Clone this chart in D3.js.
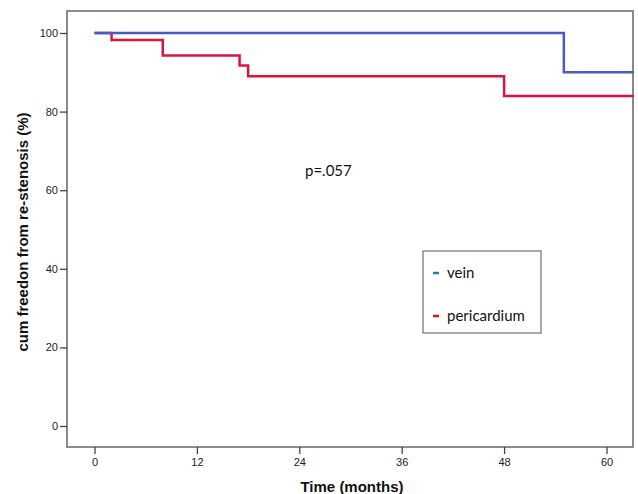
<!DOCTYPE html>
<html>
<head>
<meta charset="utf-8">
<script src="https://cdn.jsdelivr.net/npm/d3@7"></script>
<style>
body { margin: 0; background: #fff; }
text { font-family: "Liberation Sans", Arial, sans-serif; }
</style>
</head>
<body>
<script>
// Kaplan-Meier steps (months, % free)
const veinTime = [0, 55, 63.2];
const veinSurv = [100, 90, 90];
const periTime = [0, 2, 8, 17, 18, 48, 63.2];
const periSurv = [100, 98.2, 94.3, 91.7, 89.0, 84.0, 84.0];
const xTicks = [0, 12, 24, 36, 48, 60];
const yTicks = [0, 20, 40, 60, 80, 100];
const seriesNames = ["vein", "pericardium"];

const width = 638, height = 494;
const frameL = 67, frameR = 633, frameT = 11, frameB = 447;

const svg = d3.select("body").append("svg")
  .attr("width", width)
  .attr("height", height);

// scales
const x = d3.scaleLinear().domain([0, 60]).range([94.5, 606.5]);
const y = d3.scaleLinear().domain([0, 100]).range([426, 33]);

// frame
svg.append("rect")
  .attr("x", frameL).attr("y", frameT)
  .attr("width", frameR - frameL).attr("height", frameB - frameT)
  .attr("fill", "none").attr("stroke", "#666").attr("stroke-width", 1.5);

// axes
const xAxis = svg.append("g")
  .attr("transform", `translate(0,${frameB})`)
  .call(d3.axisBottom(x).tickValues(xTicks).tickSize(7).tickPadding(4));
const yAxis = svg.append("g")
  .attr("transform", `translate(${frameL},0)`)
  .call(d3.axisLeft(y).tickValues(yTicks).tickSize(7).tickPadding(2));
[xAxis, yAxis].forEach(g => {
  g.select(".domain").remove();
  g.selectAll("line").attr("stroke", "#444").attr("stroke-width", 1.3);
  g.selectAll("text").attr("fill", "#222").style("font-size", "11px")
    .style("font-family", "'Liberation Sans', Arial");
});

// step curves
const line = d3.line().curve(d3.curveStepAfter)
  .x(d => x(d[0])).y(d => y(d[1]));

svg.append("path")
  .datum(periTime.map((t, i) => [t, periSurv[i]]))
  .attr("d", line).attr("fill", "none")
  .attr("stroke", "#dc143c").attr("stroke-width", 2.5);

svg.append("path")
  .datum(veinTime.map((t, i) => [t, veinSurv[i]]))
  .attr("d", line).attr("fill", "none")
  .attr("stroke", "#4a5bbf").attr("stroke-width", 2.5);

// axis titles
svg.append("text")
  .attr("x", 352).attr("y", 492)
  .attr("text-anchor", "middle")
  .style("font-size", "15px").style("font-weight", "bold").attr("fill", "#111")
  .text("Time (months)");

svg.append("text")
  .attr("transform", "translate(28,232) rotate(-90)")
  .attr("text-anchor", "middle")
  .style("font-size", "15px").style("font-weight", "bold").attr("fill", "#111")
  .text("cum freedon from re-stenosis (%)");

// p value
svg.append("text")
  .attr("x", 305).attr("y", 176)
  .style("font-family", "Lato, 'Open Sans', sans-serif")
  .style("font-size", "15px").attr("fill", "#111")
  .text("p=.057");

// legend
const legend = svg.append("g");
legend.append("rect")
  .attr("x", 423).attr("y", 251).attr("width", 118).attr("height", 82)
  .attr("fill", "#fff").attr("stroke", "#555").attr("stroke-width", 1);

const legendColors = ["#2e75b6", "#e8101f"];
seriesNames.forEach((name, i) => {
  const ly = 273 + i * 43;
  legend.append("line")
    .attr("x1", 433).attr("x2", 439).attr("y1", ly).attr("y2", ly)
    .attr("stroke", legendColors[i]).attr("stroke-width", 2.5);
  legend.append("text")
    .attr("x", 447).attr("y", ly + 5)
    .style("font-family", "Lato, 'Open Sans', sans-serif")
    .style("font-size", "15px").attr("fill", "#111")
    .text(name);
});
</script>
</body>
</html>
